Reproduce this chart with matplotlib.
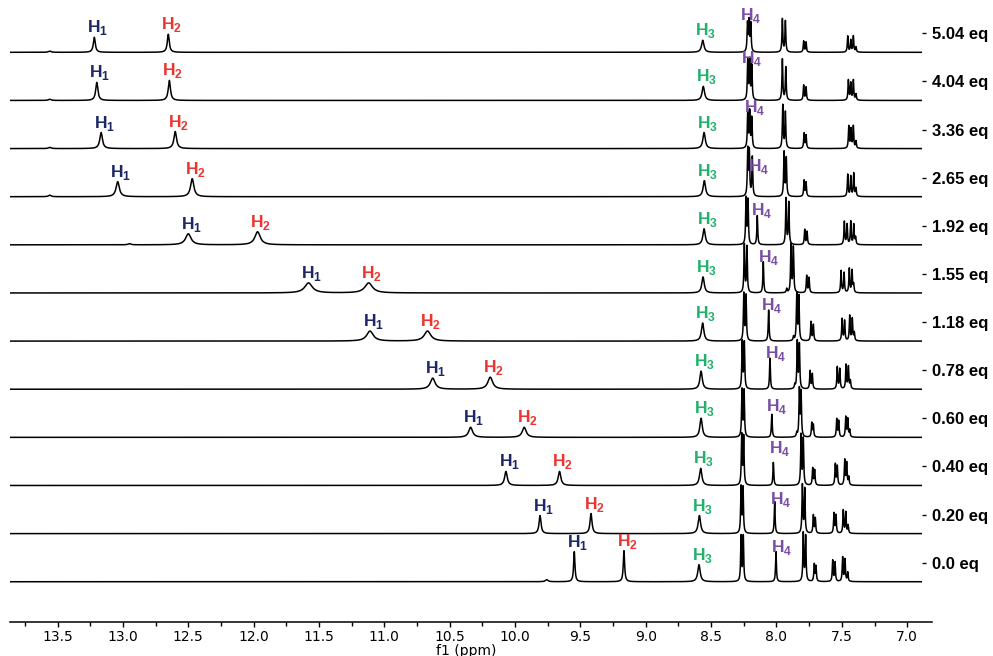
import numpy as np
import matplotlib.pyplot as plt
from matplotlib.ticker import MultipleLocator

plt.rcParams['mathtext.fontset'] = 'custom'
plt.rcParams['mathtext.rm'] = 'Liberation Sans'
plt.rcParams['mathtext.bf'] = 'Liberation Sans:bold'

# traces from bottom (0.0 eq) to top (5.04 eq)
eq_labels = ['0.0 eq', '0.20 eq', '0.40 eq', '0.60 eq', '0.78 eq', '1.18 eq',
             '1.55 eq', '1.92 eq', '2.65 eq', '3.36 eq', '4.04 eq', '5.04 eq']

h1_ppm = [9.547, 9.809, 10.07, 10.34, 10.63, 11.11, 11.58, 12.50, 13.04, 13.167, 13.20, 13.219]
h1_height = [30, 18, 14, 10, 11, 10, 10, 11, 15, 16, 18, 15]
h2_ppm = [9.167, 9.419, 9.66, 9.93, 10.19, 10.67, 11.12, 11.97, 12.47, 12.60, 12.645, 12.653]
h2_height = [31, 20, 14, 10, 12, 10, 10, 13, 18, 17, 20, 18]
h12_width = [0.006, 0.009, 0.012, 0.018, 0.022, 0.03, 0.035, 0.025, 0.015, 0.012, 0.01, 0.009]

h3_ppm = [8.593, 8.590, 8.580, 8.577, 8.577, 8.565, 8.562, 8.554, 8.552, 8.554, 8.560, 8.564]
h3_height = [17, 18, 17, 19, 18, 18, 16, 16, 16, 16, 14, 12]

h4_ppm = [8.004, 8.014, 8.024, 8.036, 8.050, 8.060, 8.101, 8.147, 8.185, 8.189, 8.189, 8.197]
h4_height = [30, 32, 23, 23, 31, 31, 31, 29, 39, 30, 34, 28]

# remaining lines of each trace (aromatics plus small impurities)
aro_ppm = [
    [9.758, 8.271, 8.254, 7.795, 7.777, 7.711, 7.698, 7.570, 7.552, 7.494, 7.476, 7.455],
    [8.271, 8.256, 7.802, 7.784, 7.718, 7.703, 7.560, 7.545, 7.489, 7.470, 7.452],
    [8.266, 8.251, 7.812, 7.795, 7.723, 7.708, 7.550, 7.535, 7.478, 7.463, 7.447],
    [8.264, 8.248, 7.845, 7.825, 7.812, 7.730, 7.718, 7.539, 7.524, 7.470, 7.455, 7.440],
    [8.262, 8.246, 7.860, 7.841, 7.825, 7.743, 7.726, 7.535, 7.516, 7.468, 7.450, 7.435],
    [8.250, 8.233, 7.870, 7.845, 7.829, 7.736, 7.718, 7.498, 7.479, 7.440, 7.420, 7.405],
    [8.246, 8.226, 7.922, 7.889, 7.871, 7.769, 7.751, 7.506, 7.483, 7.443, 7.422, 7.410],
    [12.95, 8.233, 8.218, 7.927, 7.906, 7.784, 7.766, 7.481, 7.460, 7.432, 7.409, 7.395],
    [13.56, 8.220, 8.208, 7.942, 7.925, 7.789, 7.774, 7.455, 7.432, 7.409, 7.392],
    [13.56, 8.220, 8.205, 7.952, 7.932, 7.789, 7.774, 7.447, 7.430, 7.412, 7.392],
    [13.56, 8.220, 8.205, 7.955, 7.929, 7.792, 7.774, 7.450, 7.432, 7.412, 7.392],
    [13.56, 8.222, 8.210, 7.955, 7.932, 7.792, 7.774, 7.455, 7.432, 7.412, 7.392],
]
aro_height = [
    [2, 45, 45, 48, 45, 17, 15, 21, 19, 24, 22, 9],
    [46, 45, 48, 44, 18, 15, 20, 18, 23, 21, 8],
    [50, 48, 50, 46, 17, 15, 21, 19, 25, 22, 8],
    [47, 46, 4, 47, 44, 14, 12, 18, 16, 20, 18, 7],
    [47, 46, 4, 47, 44, 18, 15, 22, 20, 24, 22, 8],
    [47, 45, 4, 47, 44, 19, 16, 22, 20, 25, 22, 8],
    [48, 46, 4, 48, 45, 17, 15, 22, 20, 24, 22, 8],
    [1.2, 46, 44, 46, 42, 15, 13, 23, 20, 23, 20, 7],
    [1.5, 46, 44, 44, 38, 16, 14, 22, 20, 23, 8],
    [1.2, 36, 36, 43, 36, 15, 13, 22, 19, 22, 7],
    [1.2, 39, 39, 41, 33, 15, 13, 20, 17, 20, 6],
    [1.2, 28, 30, 33, 31, 11, 10, 16, 12, 16, 5],
]

# H4 label placement (ppm of the "H", height above baseline)
h4_lab_ppm = [7.987, 7.990, 7.998, 8.024, 8.034, 8.060, 8.085, 8.136, 8.157, 8.189, 8.216, 8.220]
h4_lab_dy = [25, 25, 27, 21, 26, 26, 26, 25, 21, 31, 32, 27]

spacing = 48.0
narrow = 0.0038
h3_width = 0.011
x_left, x_right = 13.867, 6.887


def lorentz(x, x0, h, w):
    return h / (1 + ((x - x0) / w) ** 2)


fig = plt.figure(figsize=(9.93, 6.56), dpi=100)
ax = fig.add_axes([0.00967, 0.0518, 0.9188, 0.9482])

ppm = np.linspace(x_left, x_right, 14000)
colors = {'H1': '#1d2766', 'H2': '#ec3431', 'H3': '#20b26b', 'H4': '#7a4ea3'}


def label(name, x, y, color):
    ax.annotate(r'$\mathbf{H}_\mathbf{%s}$' % name[1], xy=(x, y), xytext=(2.3, 0),
                textcoords='offset points', ha='center', va='bottom',
                fontsize=12.5, color=color)


for k in range(len(eq_labels)):
    w = h12_width[k]
    sig = lorentz(ppm, h1_ppm[k], h1_height[k], w)
    sig += lorentz(ppm, h2_ppm[k], h2_height[k], w)
    sig += lorentz(ppm, h3_ppm[k], h3_height[k], h3_width)
    sig += lorentz(ppm, h4_ppm[k], h4_height[k], narrow)
    for p, h in zip(aro_ppm[k], aro_height[k]):
        lw_ = 0.012 if p > 9 else narrow
        sig += lorentz(ppm, p, h, lw_)
    ax.plot(ppm, k + sig / spacing, color='black', lw=1.1)

    label('H1', h1_ppm[k], k + h1_height[k] / spacing, colors['H1'])
    label('H2', h2_ppm[k], k + h2_height[k] / spacing, colors['H2'])
    label('H3', h3_ppm[k], k + h3_height[k] / spacing, colors['H3'])
    label('H4', h4_lab_ppm[k], k + h4_lab_dy[k] / spacing, colors['H4'])

ax.set_xlim(x_left, x_right)
ax.set_ylim(-0.837, 12.087)

for s in ['top', 'left', 'right']:
    ax.spines[s].set_visible(False)
ax.spines['bottom'].set_linewidth(1.1)
ax.spines['bottom'].set_bounds(x_left, 6.81)

ax.xaxis.set_major_locator(MultipleLocator(0.5))
ax.xaxis.set_minor_locator(MultipleLocator(0.25))
ax.tick_params(axis='x', which='major', length=3.5, width=1, pad=2, labelsize=10)
ax.tick_params(axis='x', which='minor', length=3, width=1)
for t in ax.get_xticklabels():
    t.set_fontfamily(['Liberation Sans Narrow', 'DejaVu Sans'])
ax.set_xlabel('f1 (ppm)', fontsize=10, labelpad=0,
              fontfamily=['Liberation Sans Narrow', 'DejaVu Sans'])

ax.yaxis.tick_right()
ax.set_yticks(np.arange(len(eq_labels)) + 19 / spacing)
ax.set_yticklabels(eq_labels, fontsize=12, fontweight='bold',
                   fontfamily='Liberation Sans')
ax.tick_params(axis='y', length=3, width=1, pad=4)

fig.savefig('out.png', dpi=100)
